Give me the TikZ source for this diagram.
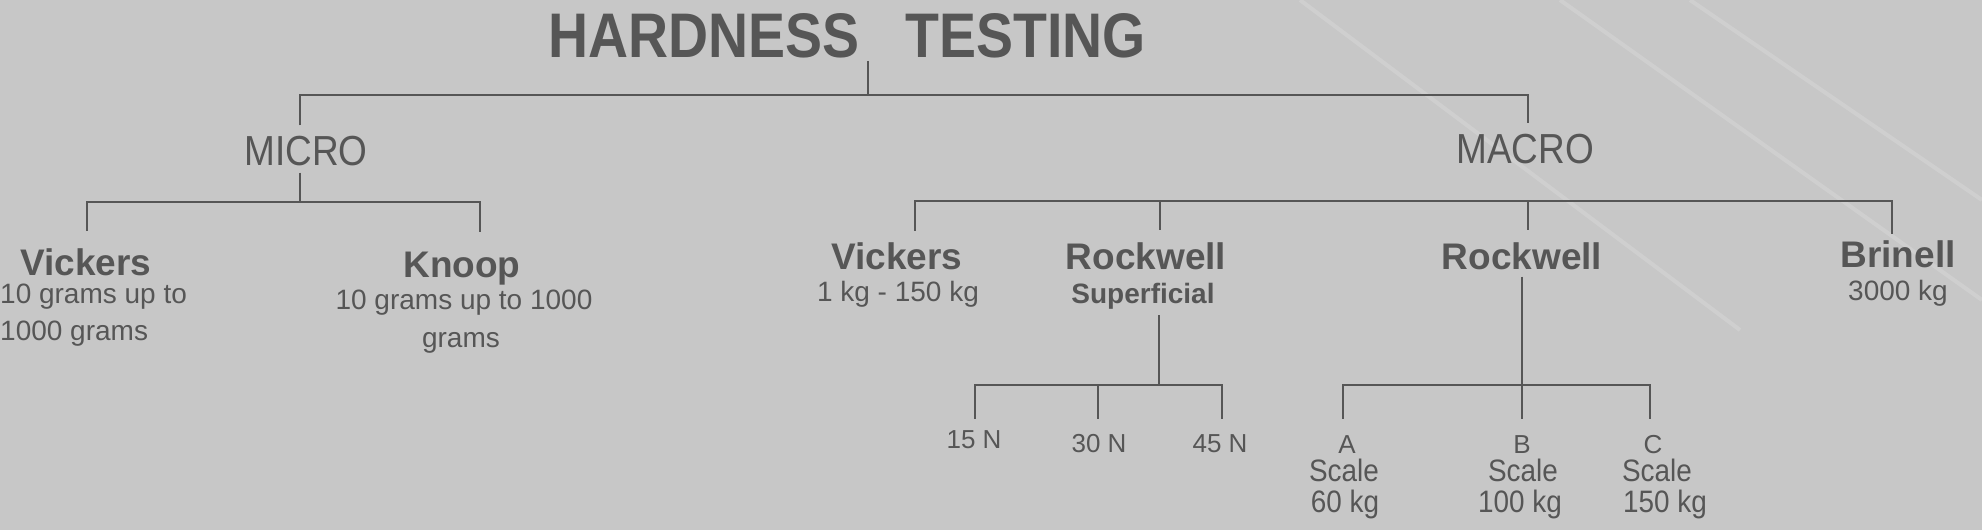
\documentclass[tikz,border=0pt]{standalone}
\usepackage{fontspec}
\setmainfont{Liberation Sans}
\newfontfamily\condfont{Liberation Sans}[FakeStretch=0.88]
\newfontfamily\narrowfont{Liberation Sans}[FakeStretch=0.9]
\definecolor{ink}{RGB}{86,86,86}
\definecolor{bg}{RGB}{199,199,199}
\begin{document}
\begin{tikzpicture}[x=1pt,y=-1pt,
  ln/.style={draw=ink, line width=2.9pt, line join=miter},
  base/.style={text=ink, inner sep=0pt, anchor=base},
  ttl/.style={base, font=\condfont\fontsize{63}{66}\selectfont\bfseries},
  lvl/.style={base, font=\condfont\fontsize{42}{44}\selectfont},
  nm/.style={base, font=\fontsize{37}{40}\selectfont\bfseries},
  sub/.style={base, font=\fontsize{28}{30}\selectfont},
  subb/.style={base, font=\fontsize{28}{30}\selectfont\bfseries},
  lbl/.style={base, font=\fontsize{26}{30}\selectfont},
  lblb/.style={base, font=\narrowfont\fontsize{31}{34}\selectfont}]
\useasboundingbox (0,0) rectangle (1982,530);
% background
\fill[bg] (0,0) rectangle (1982,530);
\begin{scope}
  \clip (0,0) rectangle (1982,530);
  \begin{scope}[draw=white, opacity=0.15, line width=4pt]
    \draw (1300,0) -- (1740,330);
    \draw (1560,0) -- (1982,300);
    \draw (1690,0) -- (1982,200);
  \end{scope}
\end{scope}

% title
\node[ttl] (title) at (847,57) {HARDNESS\hspace{46pt}TESTING};
% level 1
\node[lvl] (mi) at (306,165) {MICRO};
\node[lvl] (ma) at (1525,163) {MACRO};
% micro children
\node[nm] (vk1) at (86,275) {Vickers};
\node[sub, anchor=base west] (vk1a) at (0,303) {10 grams up to};
\node[sub, anchor=base west] (vk1b) at (0,340) {1000 grams};
\node[nm] (kn) at (462,277) {Knoop};
\node[sub] (kna) at (464,309) {10 grams up to 1000};
\node[sub] (knb) at (461,347) {grams};
% macro children
\node[nm] (vk2) at (897,269) {Vickers};
\node[sub] (vk2a) at (898,301) {1 kg - 150 kg};
\node[nm] (rs) at (1146,269) {Rockwell};
\node[subb] (rsa) at (1143,303) {Superficial};
\node[nm] (rw) at (1522,269) {Rockwell};
\node[nm] (br) at (1898,267) {Brinell};
\node[sub] (bra) at (1898,300) {3000 kg};
% superficial scales
\node[lbl] (n15) at (974,448) {15 N};
\node[lbl] (n30) at (1099,452) {30 N};
\node[lbl] (n45) at (1220,452) {45 N};
% rockwell scales
\node[lbl] (sa) at (1347,453) {A};
\node[lblb] (sa2) at (1344,481) {Scale};
\node[lblb] (sa3) at (1345,512) {60 kg};
\node[lbl] (sb) at (1522,453) {B};
\node[lblb] (sb2) at (1523,481) {Scale};
\node[lblb] (sb3) at (1520,512) {100 kg};
\node[lbl] (sc) at (1653,453) {C};
\node[lblb] (sc2) at (1657,481) {Scale};
\node[lblb] (sc3) at (1665,512) {150 kg};

% junctions
\coordinate (jT) at (868,95);
\coordinate (jMi) at (300,95);
\coordinate (jMa) at (1528,95);
\coordinate (jMiC) at (300,202);
\coordinate (jVk) at (87,202);
\coordinate (jKn) at (480,202);
\coordinate (jMV) at (915,201);
\coordinate (jRS) at (1160,201);
\coordinate (jRw) at (1528,201);
\coordinate (jBr) at (1892,201);
\coordinate (jS) at (1159,385);
\coordinate (j15) at (975,385);
\coordinate (j30) at (1098,385);
\coordinate (j45) at (1222,385);
\coordinate (jR) at (1522,385);
\coordinate (jA) at (1343,385);
\coordinate (jC) at (1650,385);

% title -> micro / macro
\draw[ln, shorten <=3pt] (jT |- title.south) -- (jT);
\draw[ln, shorten <=10pt, shorten >=10pt] (jMi |- mi.north) -- (jMi) -- (jMa) -- (jMa |- ma.north);
% micro
\draw[ln, shorten <=7pt] (jMiC |- mi.south) -- (jMiC);
\draw[ln, shorten <=17pt, shorten >=19.5pt] (jVk |- vk1.north) -- (jVk) -- (jKn) -- (jKn |- kn.north);
% macro
\draw[ln, shorten <=11pt, shorten >=6pt] (jMV |- vk2.north) -- (jMV) -- (jBr) -- (jBr |- br.north);
\draw[ln, shorten >=12pt] (jRS) -- (jRS |- rs.north);
\draw[ln, shorten >=12pt] (jRw) -- (jRw |- rw.north);
% superficial
\draw[ln, shorten <=6pt] (jS |- rsa.south) -- (jS);
\draw[ln, shorten <=11pt, shorten >=15pt] (j15 |- n15.north) -- (j15) -- (j45) -- (j45 |- n45.north);
\draw[ln, shorten >=15pt] (j30) -- (j30 |- n30.north);
% rockwell
\draw[ln, shorten <=7pt] (jR |- rw.south) -- (jR);
\draw[ln, shorten <=16pt, shorten >=16pt] (jA |- sa.north) -- (jA) -- (jC) -- (jC |- sc.north);
\draw[ln, shorten >=16pt] (jR) -- (jR |- sb.north);
\end{tikzpicture}
\end{document}
